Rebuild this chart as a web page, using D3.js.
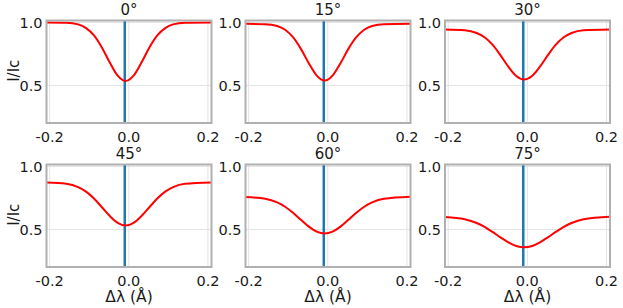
<!DOCTYPE html>
<html>
<head>
<meta charset="utf-8">
<script src="https://cdn.jsdelivr.net/npm/d3@7"></script>
<style>
  body { margin: 0; background: #fff; }
  text { font-family: "DejaVu Sans", Verdana, sans-serif; fill: #1a1a1a; }
</style>
</head>
<body>
<svg id="chart" width="623" height="308"></svg>
<script>
// panel titles (viewing angle)
var angles = ["0°", "15°", "30°", "45°", "60°", "75°"];

var dLambda = [-0.208, -0.158, -0.128, -0.108, -0.088, -0.068, -0.048, -0.028, -0.008,
               0.012, 0.032, 0.052, 0.072, 0.092, 0.112, 0.142, 0.209];

// normalised intensity I/Ic for each angle
var i0  = [1.000, 0.998, 0.985, 0.956, 0.898, 0.802, 0.682, 0.578, 0.536, 0.578, 0.682, 0.802, 0.898, 0.956, 0.985, 0.998, 1.000];
var i15 = [0.990, 0.987, 0.973, 0.943, 0.884, 0.791, 0.677, 0.579, 0.540, 0.579, 0.677, 0.791, 0.884, 0.943, 0.973, 0.987, 0.990];
var i30 = [0.945, 0.939, 0.917, 0.883, 0.824, 0.741, 0.650, 0.576, 0.548, 0.576, 0.650, 0.741, 0.824, 0.883, 0.917, 0.939, 0.945];
var i45 = [0.873, 0.863, 0.837, 0.801, 0.746, 0.677, 0.607, 0.553, 0.532, 0.553, 0.607, 0.677, 0.746, 0.801, 0.837, 0.863, 0.874];
var i60 = [0.758, 0.744, 0.715, 0.681, 0.633, 0.577, 0.523, 0.483, 0.468, 0.483, 0.523, 0.577, 0.633, 0.681, 0.715, 0.744, 0.760];
var i75 = [0.600, 0.582, 0.552, 0.521, 0.481, 0.438, 0.399, 0.370, 0.360, 0.370, 0.399, 0.438, 0.481, 0.521, 0.552, 0.582, 0.602];
var profiles = [i0, i15, i30, i45, i60, i75];

var lineCentre = -0.0102; // blue reference line
var xTicks = [-0.2, 0.0, 0.2];
var yTicks = [0.5, 1.0];

var svg = d3.select("#chart");
var w = 165, h = 102.5;
var lefts = [46.5, 245.5, 445];
var tops = [20.5, 164.5];

var x = d3.scaleLinear().domain([-0.208, 0.209]).range([0, w]);
var y = d3.scaleLinear().domain([0.203, 1.016]).range([h, 0]);
var fmt = function(d) { return d.toFixed(1); };

var line = d3.line()
  .x(function(d) { return x(d[0]); })
  .y(function(d) { return y(d[1]); })
  .curve(d3.curveMonotoneX);

profiles.forEach(function(prof, k) {
  var col = k % 3, row = Math.floor(k / 3);
  var g = svg.append("g")
    .attr("transform", "translate(" + lefts[col] + "," + tops[row] + ")");

  // grid
  g.selectAll(".gx").data(xTicks).enter().append("line")
    .attr("x1", function(d) { return x(d); }).attr("x2", function(d) { return x(d); })
    .attr("y1", 0).attr("y2", h)
    .attr("stroke", "#e3e3e3").attr("stroke-width", 1);
  g.selectAll(".gy").data(yTicks).enter().append("line")
    .attr("x1", 0).attr("x2", w)
    .attr("y1", function(d) { return y(d); }).attr("y2", function(d) { return y(d); })
    .attr("stroke", "#e3e3e3").attr("stroke-width", 1);

  // blue centre line
  g.append("line")
    .attr("x1", x(lineCentre)).attr("x2", x(lineCentre))
    .attr("y1", 0).attr("y2", h)
    .attr("stroke", "#1f77b4").attr("stroke-width", 2.5);

  // profile
  g.append("path")
    .datum(dLambda.map(function(v, i) { return [v, prof[i]]; }))
    .attr("d", line)
    .attr("fill", "none")
    .attr("stroke", "#ff0000")
    .attr("stroke-width", 2);

  // frame
  g.append("rect")
    .attr("width", w).attr("height", h)
    .attr("fill", "none").attr("stroke", "#b0b0b0").attr("stroke-width", 2);

  // tick labels
  g.selectAll(".tx").data(xTicks).enter().append("text")
    .attr("x", function(d) { return x(d); })
    .attr("y", h + 18.5)
    .attr("text-anchor", "middle")
    .attr("font-size", 14.5)
    .text(fmt);
  g.selectAll(".ty").data(yTicks).enter().append("text")
    .attr("x", -4)
    .attr("y", function(d) { return y(d); })
    .attr("dy", "0.36em")
    .attr("text-anchor", "end")
    .attr("font-size", 14.5)
    .text(fmt);

  // title
  g.append("text")
    .attr("x", w / 2).attr("y", -5.5)
    .attr("text-anchor", "middle")
    .attr("font-size", 15)
    .text(angles[k]);

  if (col === 0) {
    g.append("text")
      .attr("transform", "translate(-28," + (h / 2 - 1) + ") rotate(-90)")
      .attr("text-anchor", "middle")
      .attr("font-size", 15)
      .text("I/Ic");
  }
  if (row === 1) {
    g.append("text")
      .attr("x", w / 2).attr("y", h + 34.5)
      .attr("text-anchor", "middle")
      .attr("font-size", 15.5)
      .text("Δλ (Å)");
  }
});
</script>
</body>
</html>
